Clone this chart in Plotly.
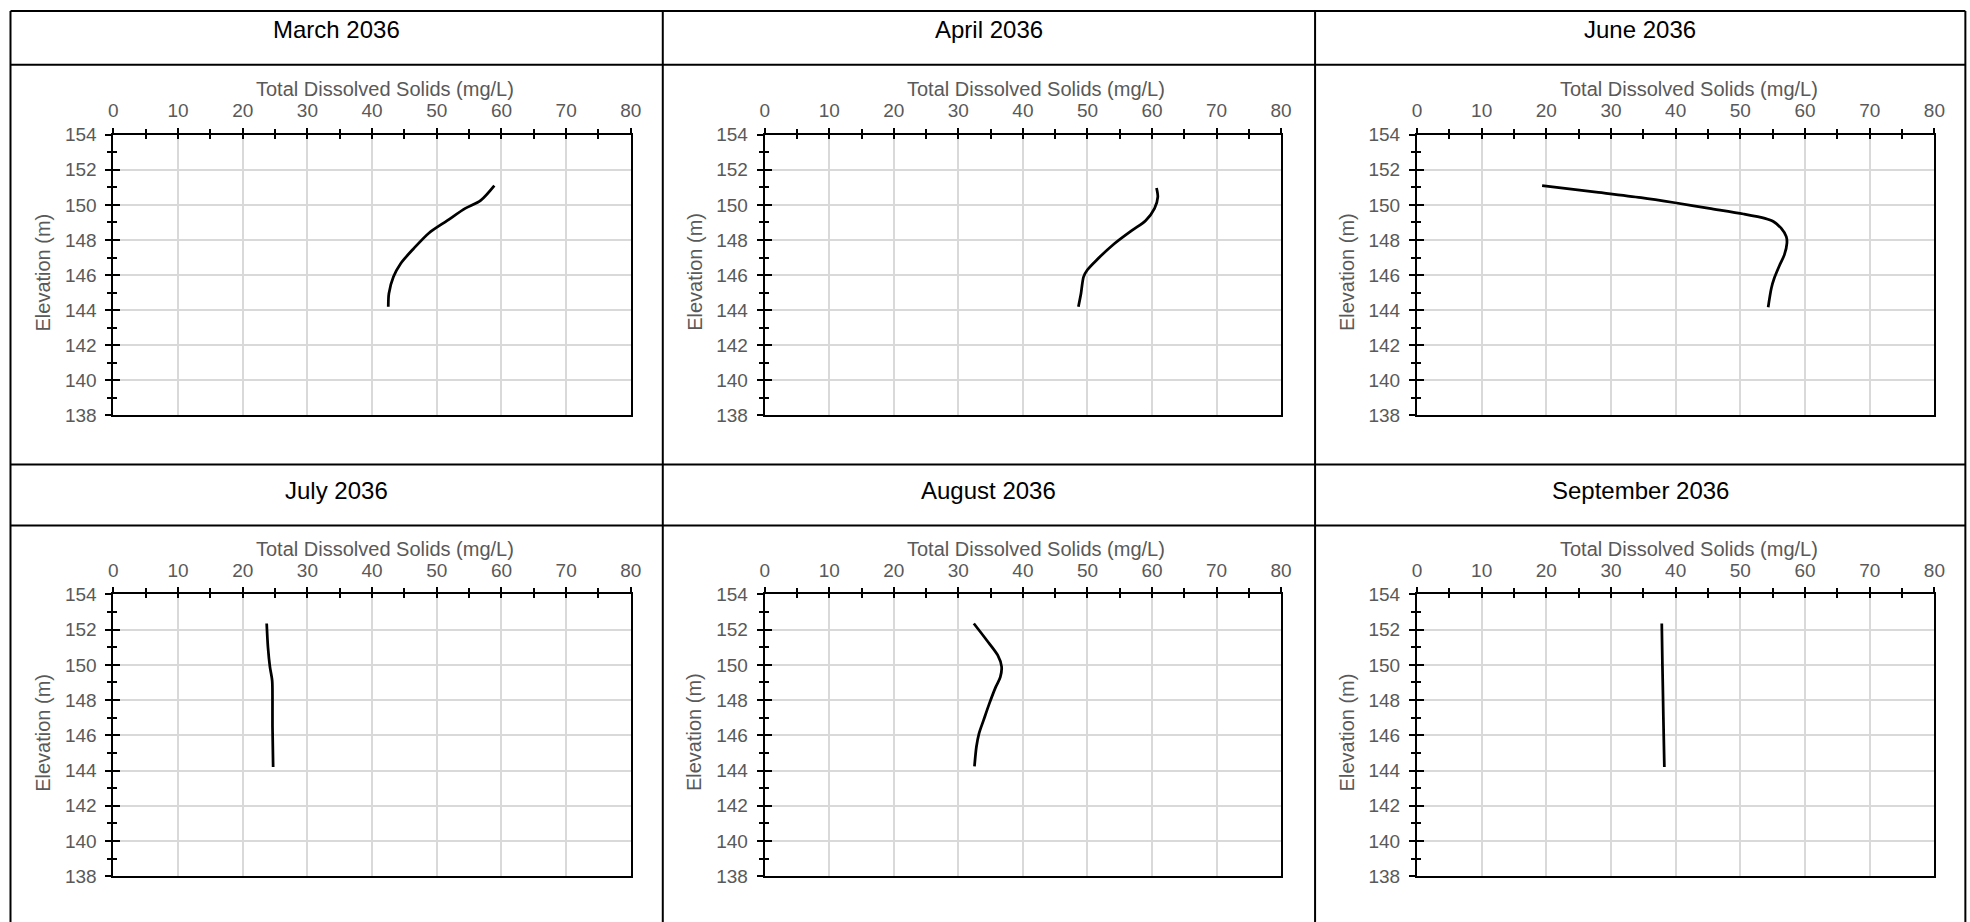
import plotly.graph_objects as go

# Measured mapping between figure pixels and the photographed page:
# page_x = OX + SX * fig_x, page_y = OY + SY * fig_y
SX, OX = 0.993, 4.5
SY, OY = 0.978, 9.3
W, H = 1980, 934

titles = ["March 2036", "April 2036", "June 2036", "July 2036", "August 2036", "September 2036"]

march_tds = [42.5, 42.6, 43.3, 44.4, 46.4, 48.8, 51.6, 54.4, 56.8, 58.9]
march_elev = [144.2, 144.95, 145.9, 146.65, 147.5, 148.4, 149.1, 149.8, 150.26, 151.1]

april_tds = [48.6, 49.0, 49.4, 50.0, 51.4, 54.2, 56.9, 59.0, 60.4, 60.9, 60.7]
april_elev = [144.2, 144.95, 145.9, 146.3, 146.85, 147.8, 148.55, 149.1, 149.8, 150.45, 150.96]

june_tds = [54.3, 54.8, 55.25, 56.1, 56.8, 57.2, 57.1, 56.3, 55.1, 53.8, 50.5, 45.2, 39.9, 34.65, 28.05, 19.35]
june_elev = [144.17, 145.26, 145.83, 146.59, 147.15, 147.82, 148.19, 148.67, 149.05, 149.23, 149.48, 149.8, 150.12, 150.41, 150.71, 151.09]

july_tds = [24.7, 24.6, 24.6, 24.55, 24.2, 23.9, 23.7]
july_elev = [144.2, 146.5, 148.0, 149.1, 149.9, 151.0, 152.35]

august_tds = [32.5, 32.8, 33.2, 33.9, 34.8, 35.8, 36.5, 36.7, 36.1, 34.4, 32.4]
august_elev = [144.24, 145.35, 146.1, 146.85, 147.8, 148.75, 149.3, 149.9, 150.55, 151.4, 152.35]

september_tds = [38.25, 38.15, 38.05, 37.95, 37.85]
september_elev = [144.2, 146.0, 148.0, 150.0, 152.35]

series = [
    (march_tds, march_elev),
    (april_tds, april_elev),
    (june_tds, june_elev),
    (july_tds, july_elev),
    (august_tds, august_elev),
    (september_tds, september_elev),
]

x_title = "Total Dissolved Solids (mg/L)"
y_title = "Elevation (m)"
x_range = [0, 80]
y_range = [138, 154]

FONT = "Liberation Sans, Arial, sans-serif"
GRAY = "#595959"
GRID = "#d9d9d9"

# target page-pixel layout
cols_px = [(113, 631), (765, 1282), (1418, 1936)]
rows_px = [(134, 415), (594, 876)]
col_centers = [336.5, 989.5, 1641.5]
title_y_px = [29, 490]


def px(p):
    return ((p - OX) / SX) / W


def py(p):
    return 1 - ((p - OY) / SY) / H


fig = go.Figure()
layout = {}
annotations = []
shapes = []

for i in range(6):
    r, c = divmod(i, 3)
    n = i + 1
    on = i + 7
    xl, xr = cols_px[c]
    yt, yb = rows_px[r]
    xs = "" if n == 1 else str(n)
    tds, elev = series[i]
    fig.add_trace(go.Scatter(
        x=tds, y=elev, mode="lines",
        line=dict(color="black", width=2.75, shape="spline", smoothing=0.8),
        xaxis="x" + xs, yaxis="y" + xs, showlegend=False, hoverinfo="skip"))
    fig.add_trace(go.Scatter(
        x=[None], y=[None], mode="lines", xaxis="x" + str(on), yaxis="y" + str(on),
        showlegend=False, hoverinfo="skip"))

    layout["xaxis" + xs] = dict(
        domain=[px(xl), px(xr)], anchor="y" + xs, side="top", range=x_range,
        dtick=10, tick0=0, showgrid=True, gridcolor=GRID, gridwidth=1.5,
        showline=True, linecolor="black", linewidth=2, mirror=True,
        ticks="outside", ticklen=5, tickwidth=2, tickcolor="black",
        minor=dict(ticks="outside", dtick=5, ticklen=4, tickwidth=1.5, tickcolor="black", showgrid=False),
        tickfont=dict(family=FONT, size=19, color=GRAY), ticklabelstandoff=3,
        zeroline=False, fixedrange=True)
    layout["yaxis" + xs] = dict(
        domain=[py(yb), py(yt)], anchor="x" + xs, side="left", range=y_range,
        dtick=2, tick0=138, showgrid=True, gridcolor=GRID, gridwidth=1.5,
        showline=True, linecolor="black", linewidth=2, mirror=True,
        ticks="outside", ticklen=6, tickwidth=2, tickcolor="black",
        minor=dict(ticks="outside", dtick=1, ticklen=4, tickwidth=1.5, tickcolor="black", showgrid=False),
        tickfont=dict(family=FONT, size=19, color=GRAY), ticklabelstandoff=5,
        zeroline=False, fixedrange=True)
    # overlay axes carrying the inner half of the crossing ticks
    layout["xaxis" + str(on)] = dict(
        overlaying="x" + xs, anchor="y" + xs, side="top", range=x_range,
        dtick=10, tick0=0, showgrid=False, showline=False, showticklabels=False,
        ticks="inside", ticklen=4, tickwidth=2, tickcolor="black",
        minor=dict(ticks="inside", dtick=5, ticklen=4, tickwidth=1.5, tickcolor="black", showgrid=False),
        zeroline=False, fixedrange=True)
    layout["yaxis" + str(on)] = dict(
        overlaying="y" + xs, anchor="x" + xs, side="left", range=y_range,
        dtick=2, tick0=138, showgrid=False, showline=False, showticklabels=False,
        ticks="inside", ticklen=7, tickwidth=2, tickcolor="black",
        minor=dict(ticks="inside", dtick=1, ticklen=4, tickwidth=1.5, tickcolor="black", showgrid=False),
        zeroline=False, fixedrange=True)

    # panel title
    annotations.append(dict(
        text=titles[i], x=px(col_centers[c]), y=py(title_y_px[r]), xref="paper", yref="paper",
        xanchor="center", yanchor="middle", showarrow=False,
        font=dict(family=FONT, size=24, color="black")))
    # x-axis title
    annotations.append(dict(
        text=x_title, x=px((xl + xr) / 2 + 13), y=py(yt - 45.5), xref="paper", yref="paper",
        xanchor="center", yanchor="middle", showarrow=False,
        font=dict(family=FONT, size=20, color=GRAY)))
    # y-axis title
    annotations.append(dict(
        text=y_title, x=px(xl - 70), y=py((yt + yb) / 2 - 3), xref="paper", yref="paper",
        xanchor="center", yanchor="middle", showarrow=False, textangle=-90,
        font=dict(family=FONT, size=20, color=GRAY)))

# table frame (target page pixels)
line = dict(color="black", width=2)
top_y = OY + 1
for yv in [top_y, 64, 464, 525]:
    shapes.append(dict(type="line", xref="paper", yref="paper",
                       x0=px(10), x1=px(1967), y0=py(yv), y1=py(yv), line=line))
for xv in [10, 663, 1316, 1967]:
    shapes.append(dict(type="line", xref="paper", yref="paper",
                       x0=px(xv), x1=px(xv), y0=py(top_y), y1=0, line=line))

fig.update_layout(
    width=W, height=H, autosize=False,
    margin=dict(l=0, r=0, t=0, b=0),
    paper_bgcolor="white", plot_bgcolor="white",
    annotations=annotations, shapes=shapes, showlegend=False,
    **layout)

fig.write_html("out.html")
